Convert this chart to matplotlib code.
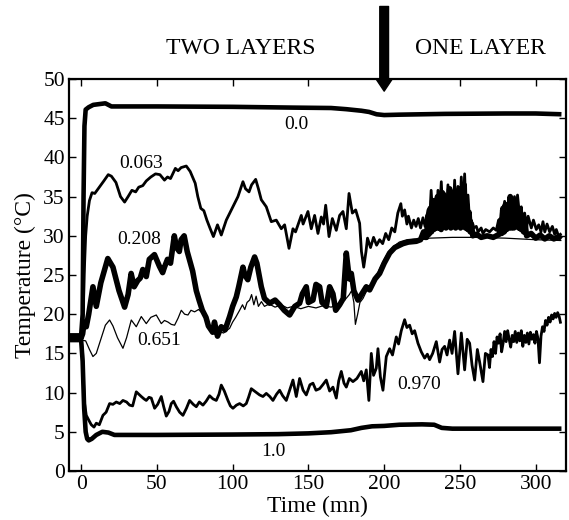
import matplotlib
matplotlib.use("Agg")
import matplotlib.pyplot as plt

plt.rcParams['font.family'] = ['Liberation Serif', 'DejaVu Serif']

# ---- data: (time in mn, temperature in °C) ----
pts_000 = [(-8, 17.3), (0, 17.3), (1, 20), (1.6, 35), (2.2, 44), (3, 46.1), (5, 46.4), (8, 46.7),
           (12, 46.8), (16, 46.9), (18, 46.7), (20, 46.5), (50, 46.5), (100, 46.45), (140, 46.35),
           (165, 46.3), (175, 46.15), (185, 45.95), (190, 45.8), (195, 45.5), (200, 45.4), (210, 45.45),
           (240, 45.55), (280, 45.6), (300, 45.6), (317, 45.5)]

pts_100 = [(-8, 16.7), (0, 16.7), (1, 14), (2, 8), (3, 5), (4, 4.1), (5, 3.9), (7, 4.1), (10, 4.6),
           (14, 5.0), (18, 4.9), (22, 4.6), (50, 4.6), (100, 4.65), (130, 4.7), (150, 4.8), (165, 4.95),
           (178, 5.2), (185, 5.5), (192, 5.7), (200, 5.75), (210, 5.9), (225, 5.95), (233, 5.9),
           (238, 5.5), (245, 5.4), (317, 5.4)]

pts_063 = [(-8, 17), (0, 17), (1, 17), (2, 25), (3, 30), (4, 32.5), (5.5, 34.5), (7.2, 35.5), (9, 35.4),
           (12, 36.2), (15, 37), (17.9, 37.8), (20, 37.6), (23, 36.8), (26, 35), (28.7, 34.3), (31, 35),
           (33.5, 35.8), (36, 35.6), (38, 36.2), (40.7, 36.4), (43, 37), (46, 37.5), (49.1, 37.9),
           (52, 37.8), (55, 37.1), (57, 37.5), (59, 37.3), (62.2, 38.6), (64, 38.3), (66, 38.7),
           (69.4, 38.9), (72, 38.2), (75.3, 36.7), (77, 35), (79, 33.5), (81, 33.2), (83, 32), (85, 31),
           (87.3, 29.9), (90, 31.4), (92.5, 30.1), (95.8, 32), (100.2, 33.7), (103.5, 35), (106.8, 36.9),
           (108.5, 36), (110.8, 35.6), (112.5, 36.5), (115.2, 37.2), (117, 36), (118.9, 34.6),
           (122.2, 33.7), (125.5, 31.8), (128.8, 32), (132.1, 30.9), (134.3, 31.4), (137.2, 28.4),
           (139.8, 30.9), (141.5, 30.5), (143.1, 31.4), (145.3, 32.6), (146.5, 31.5), (147.5, 32),
           (149.7, 33.1), (151.9, 30.9), (154.1, 32.6), (156.3, 30.3), (158.5, 32.4), (160, 31.5),
           (161.4, 33.9), (163.6, 29.9), (165.8, 32.2), (168.4, 30.7), (170.6, 32.6), (172.8, 33.1),
           (175, 30.9), (176.8, 35.4), (179, 32.9), (181.2, 33.3), (183.8, 31.6), (185, 28), (186.5, 26),
           (188, 28), (189, 29.7), (191, 28.5), (193, 29.8), (195, 28.8), (197, 29.5), (199, 29),
           (201, 30.3), (203, 29.5), (205, 31), (207, 30.5), (209, 32.9), (211, 34.1), (212, 32.5),
           (213.5, 33.3), (215, 31.5), (216, 32.5), (218, 31), (219.5, 32), (221, 31.2), (222.5, 32.2),
           (224, 31), (225.6, 32.3), (227, 31.2), (228.9, 33.3), (230, 32), (231, 35.8), (232, 32.5),
           (233.3, 34.6), (234.5, 32), (235.5, 35.8), (236.5, 32.5), (237.7, 36.9), (238.8, 32),
           (239.9, 35.4), (241, 32.5), (242.1, 36.5), (243, 32), (244.3, 34.6), (245.5, 32),
           (246.5, 37.1), (247.5, 32.5), (248.7, 36.3), (249.8, 32), (250.9, 37.5), (252, 32.5),
           (253.1, 37.9), (254.2, 32), (255.3, 35.2), (256.5, 31.5), (257.5, 32), (259, 31),
           (260.8, 31.2), (262, 30.5), (264, 31), (265.2, 30.3), (267, 30.8), (269.6, 30.5), (272, 31),
           (274, 30.7), (275.5, 32), (276.5, 31), (277.3, 33.3), (278.5, 31.5), (279.5, 34.4),
           (280.6, 31.8), (281.8, 34.1), (283, 32), (283.9, 34.6), (285, 32.2), (286, 35), (287.2, 32),
           (288, 35.2), (289.4, 32.5), (290.5, 33.7), (291.5, 31.5), (292.7, 32.9), (294, 31),
           (295, 32.5), (297.1, 31), (298.5, 32), (300.4, 30.8), (302, 31.4), (303.5, 30.5),
           (304.8, 31.8), (306, 30.5), (307.5, 31.5), (309.2, 30.5), (311, 31.2), (312.5, 30.2),
           (313.6, 30.8), (315, 30), (317, 30.3)]

pts_208 = [(-8, 17), (0, 17), (1, 17.5), (2, 19), (3.4, 18.4), (5, 20), (7.8, 23.5), (10, 21), (13, 24),
           (17.6, 27.1), (21, 26), (25, 23), (28.7, 20.9), (31, 22.5), (33, 25.2), (35, 23.5),
           (37.4, 24.3), (39, 24.6), (40.7, 25.7), (43, 24.8), (45, 27), (48.4, 27.6), (51.7, 26.1),
           (53.8, 25.3), (55, 26), (57, 27), (59, 26.5), (61.5, 30), (63, 28.5), (64.8, 28), (66, 29.5),
           (68, 30), (70, 28), (73.6, 25.5), (76, 23), (78, 21.7), (80, 20.5), (82.4, 19.6), (84, 18.5),
           (86.8, 17.7), (88, 19), (90, 17.2), (92.5, 18.4), (95, 18), (98, 19.7), (100, 21),
           (102.4, 22.2), (104, 23.5), (106.8, 26), (108, 25), (110, 24.4), (112, 26), (114.5, 27.3),
           (116, 26.5), (118.9, 23.5), (121, 22), (124.4, 21.4), (128, 21.8), (131, 21.2), (134, 20.5),
           (137.6, 19.9), (141, 21), (144.2, 21.4), (146, 22.6), (148.6, 23.5), (150, 21.5), (153, 21.8),
           (155, 23.8), (157.4, 23.5), (159, 21.5), (161.8, 21), (164, 23.5), (166.2, 22.6), (168, 20.5),
           (170.6, 21.2), (173, 22), (175, 27.8), (177, 24.5), (178.3, 25.2), (180, 23), (182.7, 21.8),
           (185, 22.5), (188.2, 23.5), (190.4, 23.1), (194, 24.5), (197, 25.2), (200, 26.5),
           (203.6, 27.8), (207, 28.5), (212.4, 29), (216, 29.2), (221.2, 29.3), (224, 29.5),
           (226, 30.5), (227, 29.8), (228, 29.8), (228.8, 32.5), (229.6, 30.2), (230.4, 33.5),
           (231.2, 30.5), (232, 34.5), (232.8, 30.8), (233.6, 33), (234.4, 31), (235.2, 35), (236, 31),
           (236.8, 34), (237.6, 30.8), (238.4, 35.5), (239.2, 31.2), (240, 34), (240.8, 31), (241.6, 35),
           (242.4, 31.5), (243.2, 36), (244, 31), (244.8, 34.5), (245.6, 31.2), (246.4, 35.5), (247.2, 31),
           (248, 34), (248.8, 31.5), (249.6, 36), (250.4, 31), (251.2, 35), (252, 31.2), (252.8, 36.5),
           (253.6, 31), (254.4, 34), (255.2, 30.8), (256, 33), (256.8, 30.5), (257.6, 31.5), (258.5, 30),
           (261, 30.2), (264, 29.8), (268, 30), (272, 29.8), (276, 30.2), (276.8, 32), (277.6, 30.3),
           (278.4, 33.5), (279.2, 30.5), (280, 34), (280.8, 30.8), (281.6, 33), (282.4, 31), (283.2, 35),
           (284, 31), (284.8, 33.5), (285.6, 31), (286.4, 34.5), (287.2, 31.2), (288, 33.5), (288.8, 31),
           (289.6, 33), (290.4, 30.8), (291.2, 32), (292, 30.5), (293, 31.5), (294, 30), (297, 30.3),
           (300, 29.7), (303, 30.1), (306, 29.6), (309, 30), (312, 29.6), (315, 29.9), (317, 29.6)]

pts_651 = [(-8, 17), (0, 16.7), (3, 16.6), (5.5, 15.5), (7.8, 14.6), (10, 15), (13, 16.8), (16, 18.6),
           (18.8, 19.26), (21, 18.5), (24, 17), (27.6, 15.65), (30, 17), (33.1, 19.26), (36.4, 18.4),
           (39.7, 19.7), (43, 18.8), (46, 19.6), (49.6, 19.9), (52.9, 18.8), (55, 19.2), (57.3, 19.0),
           (59.5, 18.7), (61.7, 18.6), (64, 19.5), (66.1, 20.5), (68.3, 20.0), (70.5, 19.9), (72.5, 20.5),
           (74.9, 20.3), (77.5, 20.6), (80.4, 20.1), (83, 19.5), (85, 18.5), (88, 17.5), (91, 17.8),
           (94, 17.6), (98, 18.2), (100, 19), (102, 19.6), (104.6, 20.5), (106.5, 21.2), (108, 20.6),
           (109.5, 21.5), (111.2, 21.8), (112.5, 22.5), (114, 21.2), (115.5, 22.3), (117, 21), (119, 21.6),
           (121, 21), (124, 21.3), (128, 20.9), (132, 21.2), (136, 20.8), (140, 21), (145, 20.7), (150, 21),
           (155, 20.8), (160, 21.1), (165, 20.9), (170, 21.3), (174, 21.8), (177, 22.5), (178.5, 23),
           (180, 21.5), (181, 18.7), (182.5, 20), (184, 21.5), (186, 22), (188, 22.8), (191, 23.5),
           (194, 24.5), (197, 25.8), (200, 27), (203, 28), (206, 28.6), (210, 29.2), (215, 29.5),
           (220, 29.6), (230, 29.7), (245, 29.8), (260, 29.8), (280, 29.7), (300, 29.5), (317, 29.4)]

pts_970 = [(-8, 17), (0, 17), (1, 15), (2, 9), (3.4, 7.1), (5, 6.5), (6.7, 5.9), (8.5, 5.6), (10, 6.1),
           (12, 5.9), (14.4, 7.1), (16.5, 7.5), (18.8, 8.6), (21, 8.5), (23.2, 8.8), (25.5, 8.6),
           (27.6, 9.0), (30, 8.8), (32, 8.4), (34, 8.3), (36.4, 10.1), (38, 9.8), (39.7, 9.5), (41.5, 9.2),
           (43, 9.0), (44.8, 9.4), (46.3, 9.3), (48.5, 8.0), (50.5, 8.5), (52.9, 9.5), (54.5, 8.2),
           (56.2, 7.0), (58, 7.6), (59.5, 8.6), (61, 8.9), (62.8, 8.2), (65, 7.5), (67.2, 7.1),
           (69.5, 8.0), (71.6, 9.0), (74, 8.5), (76, 8.2), (78, 8.8), (80.4, 8.4), (82.5, 8.9),
           (84.8, 9.6), (87, 9.2), (89.2, 9.0), (91, 9.8), (92.5, 10.96), (94.5, 10.2), (96.9, 9.0),
           (98.5, 8.3), (100.2, 8.0), (102.5, 8.4), (104.6, 8.6), (107, 8.3), (109, 8.6), (110.5, 9.4),
           (112.3, 10.5), (115, 10.1), (117.8, 9.7), (120, 9.5), (122.2, 9.9), (124.5, 9.5), (126.6, 9.0),
           (129, 9.8), (131, 10.3), (133, 9.6), (135.4, 9.0), (137.6, 10.3), (139.8, 11.6), (142, 9.5),
           (144.2, 11.8), (146.5, 10.3), (148.6, 9.7), (151, 11.0), (153, 11.2), (155, 10.3),
           (157.4, 10.5), (159.5, 11.0), (161.8, 11.6), (164, 10.2), (166.2, 10.7), (168.4, 9.3),
           (170, 11.5), (171.7, 12.7), (173.5, 11.2), (175, 10.7), (177, 11.8), (179.4, 11.4), (182, 11.8),
           (184.9, 12.7), (186.5, 11.5), (188.2, 12.9), (189.9, 9.0), (191.5, 15.0), (193, 12.2),
           (194.8, 13.1), (195.9, 15.6), (197.5, 12.0), (199.2, 10.3), (201.4, 14.6), (203.6, 15.6),
           (205.5, 14.8), (208, 17.1), (209.5, 16.2), (211.3, 17.9), (213.5, 19.3), (215, 18.3),
           (216.8, 18.6), (218.5, 17.5), (220.1, 17.9), (222.3, 16.3), (224.5, 15.2), (226.7, 14.4),
           (228.5, 14.9), (230, 14.2), (232, 15.0), (234.4, 16.5), (236.6, 13.9), (238.2, 15.5),
           (239.9, 15.9), (241.5, 14.8), (243.2, 16.7), (244.8, 15.0), (246.5, 17.8), (248.7, 12.4),
           (250.9, 17.6), (253.1, 12.9), (254.8, 16.8), (256.4, 16.3), (258, 13.5), (259.7, 11.6),
           (261.5, 15.5), (263, 13.9), (265.2, 11.4), (266.8, 15.0), (268.5, 14.8), (269.5, 13.2),
           (270.5, 15.5), (271.5, 14.6), (272.5, 16.5), (273.5, 15), (274.5, 17.1), (275.5, 16.3),
           (276.5, 17.5), (277.5, 15.2), (278.5, 16.3), (279.5, 17.8), (280.5, 16.5), (281.5, 17.9),
           (282.5, 16.8), (283.5, 15.8), (284.5, 17.3), (285.5, 16.5), (286.5, 17.8), (287.5, 16.4),
           (288.5, 17.6), (289.5, 16.6), (290.5, 17.9), (291.5, 15.9), (292.5, 17.3), (293.5, 16.4),
           (294.5, 17.6), (295.5, 16.2), (296.5, 17.7), (297.5, 16.8), (298.5, 17.4), (299.5, 16.3),
           (300.5, 17.8), (301.5, 16.9), (302.5, 13.8), (303.5, 17.2), (304.5, 18.4), (305.5, 17.8),
           (306.5, 19.2), (307.5, 18.6), (308.5, 19.6), (309.5, 19.0), (310.5, 19.9), (311.5, 19.4),
           (312.5, 20.1), (313.5, 19.6), (314.5, 20.2), (315.5, 19.7), (316.5, 18.8)]

labels = ["0.0", "0.063", "0.208", "0.651", "0.970", "1.0"]
label_pos = [(142, 44.2), (39.5, 39.2), (38, 29.5), (51.4, 16.6), (223, 11.0), (126.7, 2.55)]
x_ticks = [0, 50, 100, 150, 200, 250, 300]
y_ticks = [0, 5, 10, 15, 20, 25, 30, 35, 40, 45, 50]
transition_time = 200

fig = plt.figure(figsize=(5.69, 5.2), dpi=100)
ax = fig.add_axes([69 / 569, 49 / 520, 497 / 569, 392 / 520])

series = [(pts_651, 0.9), (pts_970, 2.0), (pts_063, 2.0), (pts_208, 4.0), (pts_000, 3.3), (pts_100, 3.3)]
for pts, lw in series:
    t, v = zip(*pts)
    ax.plot(t, v, color='black', lw=lw, solid_joinstyle='round', solid_capstyle='butt')

for txt, (x, y) in zip(labels, label_pos):
    ax.text(x, y, txt, fontsize=14, ha='center', va='center')

ax.set_xlim(-8, 320)
ax.set_ylim(0, 50)
ax.set_xticks(x_ticks)
ax.set_yticks(y_ticks)
ax.tick_params(direction='in', top=True, right=True, length=5, width=1, labelsize=15.5, pad=3)
for s in ax.spines.values():
    s.set_linewidth(1.6)
ax.set_xlabel('Time (mn)', fontsize=17, labelpad=1)
ax.set_ylabel('Temperature (°C)', fontsize=17, labelpad=5)

# arrow marking the transition from two layers to one layer
ax.annotate('', xy=(transition_time, 0.969), xytext=(transition_time, 1.185),
            xycoords=ax.get_xaxis_transform(), textcoords=ax.get_xaxis_transform(),
            arrowprops=dict(width=6.3, headwidth=11.5, headlength=8.6, color='black', shrink=0.0),
            annotation_clip=False)

fig.text(241 / 569, 1 - 48 / 520, 'TWO LAYERS', fontsize=17, ha='center', va='center')
fig.text(480 / 569, 1 - 48 / 520, 'ONE LAYER', fontsize=17, ha='center', va='center')

fig.savefig('out.png', dpi=100)
